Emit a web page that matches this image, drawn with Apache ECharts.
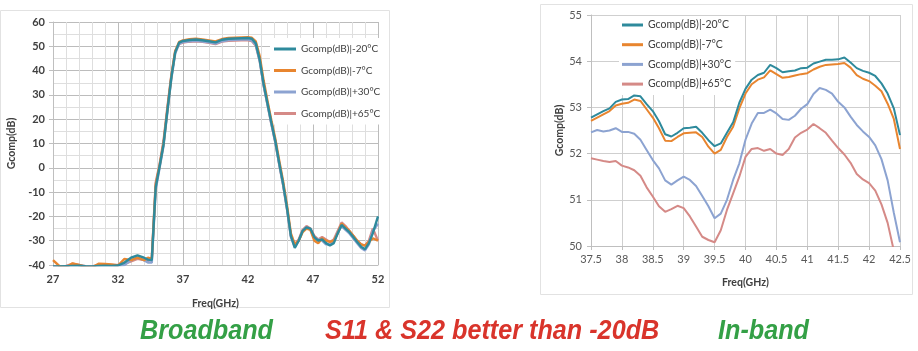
<!DOCTYPE html>
<html><head><meta charset="utf-8">
<script src="https://cdn.jsdelivr.net/npm/echarts@6/dist/echarts.min.js"></script>
<style>html,body{margin:0;padding:0;background:#fff}#c{width:918px;height:351px}</style>
</head><body><div id="c"></div>
<script>
const seriesNames = ['Gcomp(dB)|-20°C', 'Gcomp(dB)|-7°C', 'Gcomp(dB)|+30°C', 'Gcomp(dB)|+65°C'];
const bottomTexts = ['Broadband', 'S11 & S22 better than -20dB', 'In-band'];

// Broadband chart (27-52 GHz)
const bbFreq = [27,27.5,28,28.5,29,29.5,30,30.5,31,31.5,32,32.5,33,33.5,34,34.3,34.6,34.9,35.2,35.5,35.8,36.1,36.4,36.7,37,37.5,38,38.5,39,39.5,40,40.5,41,41.5,42,42.3,42.6,42.9,43.2,43.5,43.8,44.1,44.4,44.7,45,45.3,45.6,45.9,46.2,46.5,46.8,47.1,47.4,47.7,48,48.3,48.6,48.9,49.2,49.5,49.8,50.1,50.4,50.7,51,51.3,51.6,52];
const bbM20 = [-40.6,-40.6,-40.5,-40.4,-40.3,-40.5,-40.6,-40.4,-40.3,-40.4,-40.2,-39,-37,-36,-37,-37.8,-38,-8,0.5,9.5,23.5,37,47.5,51.5,52.2,52.6,52.8,52.5,52.1,51.6,52.7,53.1,53.2,53.3,53.4,53.1,51.2,44.5,34.5,26.5,18.5,11,2,-6.5,-16.5,-28,-33,-30,-26,-24.5,-25,-28.5,-30,-29.5,-31,-32,-31,-27,-23.5,-25,-26.5,-28.5,-30.5,-32.5,-33.5,-31,-27,-20];
const bbM7 = [-38,-40.5,-41,-39.3,-40,-40.8,-41,-39.5,-39.6,-39.8,-40.2,-37.5,-38,-37,-38,-37,-37.5,-7,1,10,24,37.5,48,51.8,52.4,52.9,53.1,52.8,52.4,52,53,53.4,53.5,53.6,53.7,53.5,52,46,36,27.5,19.5,12,3,-5.5,-15.5,-27,-31.5,-30,-26.5,-25,-25.5,-30,-31,-29,-30,-30.5,-30,-27,-23,-24.5,-26,-28,-30,-31.5,-32,-30.5,-29,-30];
const bbP30 = [-40.8,-40.8,-40.7,-40.6,-40.6,-40.7,-40.8,-40.6,-40.6,-40.6,-40.5,-40,-38,-37,-38,-39,-39,-9,0,9,23,36.5,47,51,51.7,52.1,52.3,52,51.6,51.1,52.1,52.6,52.7,52.8,52.8,52.4,50.5,44,34,26,18,10.5,1.5,-7,-17,-28.5,-32.5,-30,-26,-24.5,-25.5,-29,-29.5,-30,-31.5,-31.5,-30.5,-26.5,-24,-25.5,-27,-29,-31,-33,-34,-31.5,-26,-23];
const bbP65 = [-40.5,-40.6,-40.4,-39.5,-40,-40.5,-40.6,-40,-39.8,-40,-40,-39.5,-38.5,-37.5,-38,-38.5,-37,-6,1.5,11,25,38,48,51,51.5,51.9,52.1,51.8,51.4,50.9,51.9,52.3,52.4,52.5,52.5,52.1,50.2,44,34,26,18,10.5,1.5,-7,-17,-28,-31.5,-29.5,-25.5,-24,-25,-28,-29.5,-28.5,-29.5,-30.5,-29.5,-26,-22.5,-24,-26,-28,-30,-31.5,-32,-30,-25,-30];

// In-band chart (37.5-42.5 GHz)
const ibFreq = [37.5,37.6,37.7,37.8,37.9,38,38.1,38.2,38.3,38.4,38.5,38.6,38.7,38.8,38.9,39,39.1,39.2,39.3,39.4,39.5,39.6,39.7,39.8,39.9,40,40.1,40.2,40.3,40.4,40.5,40.6,40.7,40.8,40.9,41,41.1,41.2,41.3,41.4,41.5,41.6,41.7,41.8,41.9,42,42.1,42.2,42.3,42.4,42.5];
const ibM20 = [52.78,52.85,52.92,52.98,53.12,53.17,53.18,53.26,53.24,53.07,52.92,52.7,52.42,52.37,52.45,52.55,52.56,52.58,52.45,52.29,52.16,52.22,52.45,52.68,53.1,53.4,53.6,53.7,53.75,53.92,53.85,53.76,53.78,53.8,53.85,53.86,53.95,53.99,54.03,54.03,54.04,54.08,53.97,53.85,53.79,53.75,53.68,53.52,53.3,52.98,52.4];
const ibM7 = [52.71,52.78,52.85,52.92,53.04,53.08,53.1,53.17,53.14,52.96,52.78,52.55,52.28,52.27,52.36,52.44,52.45,52.46,52.36,52.15,52,52.08,52.36,52.58,52.98,53.3,53.5,53.6,53.65,53.8,53.72,53.64,53.66,53.69,53.72,53.74,53.82,53.88,53.92,53.93,53.94,53.96,53.86,53.7,53.62,53.57,53.47,53.35,53.08,52.75,52.1];
const ibP30 = [52.46,52.51,52.48,52.5,52.55,52.47,52.47,52.43,52.3,52.08,51.86,51.68,51.42,51.33,51.42,51.5,51.43,51.3,51.08,50.86,50.6,50.7,51,51.43,51.79,52.3,52.65,52.88,52.88,52.95,52.87,52.75,52.73,52.82,52.97,53.07,53.29,53.42,53.38,53.3,53.12,53,52.8,52.62,52.48,52.36,52.18,51.88,51.42,50.72,50.08];
const ibP65 = [51.9,51.87,51.84,51.82,51.84,51.74,51.7,51.64,51.52,51.27,51.07,50.86,50.74,50.8,50.87,50.82,50.64,50.42,50.2,50.13,50.08,50.34,50.78,51.14,51.5,51.93,52.1,52.12,52.06,52.1,52,51.97,52.1,52.35,52.45,52.52,52.64,52.55,52.45,52.28,52.12,51.98,51.8,51.56,51.44,51.36,51.2,50.9,50.5,49.9,49.2];

const colors = ['#2e8a9c', '#e8852f', '#8ca3d1', '#d58a87'];
const zip = (xs, ys) => xs.map((x, i) => [x, ys[i]]);
const bbSets = [bbM20, bbM7, bbP30, bbP65];
const ibSets = [ibM20, ibM7, ibP30, ibP65];

const labelFont = 'Lato';
const axisLineStyle = { color: '#bfbfbf', width: 1 };

const series = [];
seriesNames.forEach((n, i) => {
  series.push({ name: n, type: 'line', xAxisIndex: 0, yAxisIndex: 0, data: zip(bbFreq, bbSets[i]),
    showSymbol: false, symbol: 'none', lineStyle: { width: 2.4, color: colors[i] }, itemStyle: { color: colors[i] }, z: 10 - i, animation: false });
});
seriesNames.forEach((n, i) => {
  series.push({ name: n, type: 'line', xAxisIndex: 1, yAxisIndex: 1, data: zip(ibFreq, ibSets[i]),
    showSymbol: false, symbol: 'none', lineStyle: { width: 2, color: colors[i] }, itemStyle: { color: colors[i] }, z: 10 - i, animation: false });
});

const bottomFont = { fontFamily: 'Liberation Sans', fontWeight: 'bold', fontStyle: 'italic', fontSize: 28, verticalAlign: 'middle' };

const chart = echarts.init(document.getElementById('c'), null, { renderer: 'canvas' });
chart.setOption({
  backgroundColor: '#fff',
  animation: false,
  color: colors,
  grid: [
    { left: 53, top: 22, width: 325, height: 243 },
    { left: 591, top: 15, width: 309, height: 231 }
  ],
  xAxis: [
    { type: 'value', gridIndex: 0, min: 27, max: 52, interval: 5,
      name: 'Freq(GHz)', nameLocation: 'middle', nameGap: 33,
      nameTextStyle: { fontFamily: labelFont, fontWeight: 'bold', fontSize: 10.5, color: '#404040' },
      axisLine: { show: true, onZero: false, lineStyle: axisLineStyle },
      axisTick: { show: false },
      axisLabel: { fontFamily: labelFont, fontSize: 11, fontWeight: 'bold', color: '#404040', margin: 9 },
      splitLine: { show: true, lineStyle: { color: '#bcbcbc', width: 1 } },
      minorTick: { show: false, splitNumber: 5 },
      minorSplitLine: { show: true, lineStyle: { color: '#dedede', width: 1 } } },
    { type: 'value', gridIndex: 1, min: 37.5, max: 42.5, interval: 0.5,
      name: 'Freq(GHz)', nameLocation: 'middle', nameGap: 31,
      nameTextStyle: { fontFamily: labelFont, fontWeight: 'bold', fontSize: 10.5, color: '#404040' },
      axisLine: { show: true, onZero: false, lineStyle: axisLineStyle },
      axisTick: { show: true, length: 4, lineStyle: axisLineStyle },
      axisLabel: { fontFamily: labelFont, fontSize: 11, color: '#595959', margin: 8 },
      splitLine: { show: true, lineStyle: { color: '#cfcfcf', width: 1 } } }
  ],
  yAxis: [
    { type: 'value', gridIndex: 0, min: -40, max: 60, interval: 10,
      name: 'Gcomp(dB)', nameLocation: 'middle', nameGap: 36, nameRotate: 90,
      nameTextStyle: { fontFamily: labelFont, fontWeight: 'bold', fontSize: 10.5, color: '#404040' },
      axisLine: { show: true, lineStyle: axisLineStyle },
      axisTick: { show: true, length: 4, lineStyle: axisLineStyle },
      axisLabel: { fontFamily: labelFont, fontSize: 11, fontWeight: 'bold', color: '#404040', margin: 8 },
      splitLine: { show: true, lineStyle: { color: '#bcbcbc', width: 1 } },
      minorTick: { show: false, splitNumber: 2 },
      minorSplitLine: { show: true, lineStyle: { color: '#dedede', width: 1 } } },
    { type: 'value', gridIndex: 1, min: 50, max: 55, interval: 1,
      name: 'Gcomp(dB)', nameLocation: 'middle', nameGap: 26, nameRotate: 90,
      nameTextStyle: { fontFamily: labelFont, fontWeight: 'bold', fontSize: 10.5, color: '#404040' },
      axisLine: { show: true, lineStyle: axisLineStyle },
      axisTick: { show: true, length: 4, lineStyle: axisLineStyle },
      axisLabel: { fontFamily: labelFont, fontSize: 11, color: '#595959', margin: 9 },
      splitLine: { show: true, lineStyle: { color: '#cfcfcf', width: 1 } } }
  ],
  legend: [
    { orient: 'vertical', left: 270, top: 38, data: seriesNames, icon: 'rect', itemWidth: 22, itemHeight: 3,
      itemGap: 7.5, backgroundColor: '#fff', padding: [4, 2, 4, 4],
      textStyle: { fontFamily: labelFont, fontSize: 10, color: '#404040', lineHeight: 14 } },
    { orient: 'vertical', left: 619, top: 16, data: seriesNames, icon: 'rect', itemWidth: 21, itemHeight: 3,
      itemGap: 5.7, backgroundColor: '#fff', padding: [2, 4, 4, 3],
      textStyle: { fontFamily: labelFont, fontSize: 10.5, color: '#404040', lineHeight: 14 } }
  ],
  graphic: [
    { type: 'rect', shape: { x: 0.5, y: 10.5, width: 389, height: 297 }, style: { fill: 'none', stroke: '#e2e2e2', lineWidth: 1 }, z: -1 },
    { type: 'rect', shape: { x: 540.5, y: 4.5, width: 372, height: 290 }, style: { fill: 'none', stroke: '#e2e2e2', lineWidth: 1 }, z: -1 },
    { type: 'text', x: 140, y: 331, scaleX: 0.9, style: Object.assign({ text: bottomTexts[0], fill: '#34a046' }, bottomFont) },
    { type: 'text', x: 325, y: 331, scaleX: 0.9, style: Object.assign({ text: bottomTexts[1], fill: '#d9342b' }, bottomFont) },
    { type: 'text', x: 718, y: 331, scaleX: 0.9, style: Object.assign({ text: bottomTexts[2], fill: '#34a046' }, bottomFont) }
  ],
  series: series
});
</script></body></html>
